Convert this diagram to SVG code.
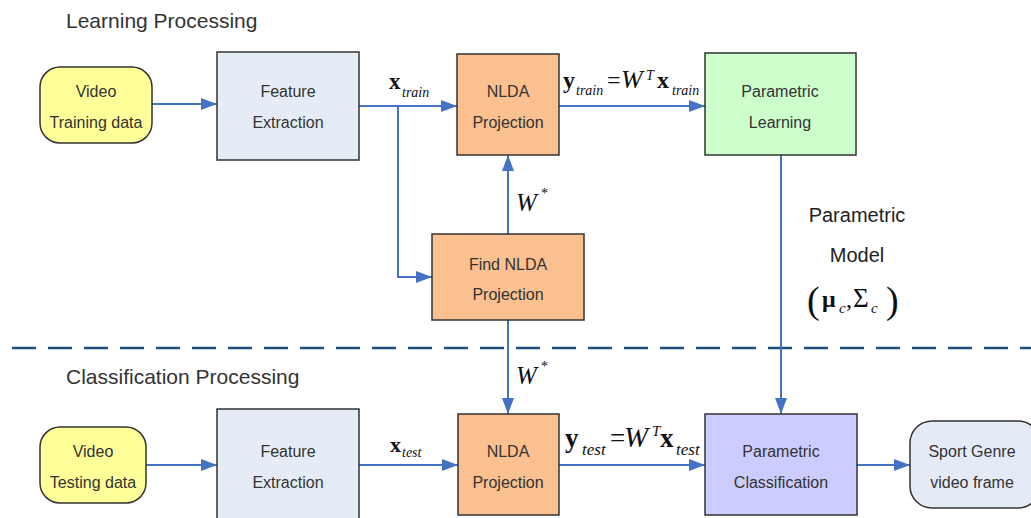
<svg xmlns="http://www.w3.org/2000/svg" width="1031" height="518" viewBox="0 0 1031 518">
  <defs>
    <marker id="arrow" viewBox="0 0 16 12" refX="16" refY="6" markerWidth="16" markerHeight="12" markerUnits="userSpaceOnUse" orient="auto">
      <path d="M0,0 L16,6 L0,12 Z" fill="#4472C4"/>
    </marker>
    <style>
      .box { stroke: #333333; stroke-width: 1.5; }
      .lbl { font-family: "Liberation Sans", Arial, sans-serif; font-size: 16px; fill: #333333; text-anchor: middle; }
      .note { font-family: "Liberation Sans", Arial, sans-serif; font-size: 20px; fill: #222222; text-anchor: middle; }
      .title { font-family: "Liberation Sans", Arial, sans-serif; font-size: 21px; fill: #333333; }
      .conn { stroke: #4472C4; stroke-width: 2; fill: none; }
      .math { font-family: "Liberation Serif", "Times New Roman", serif; fill: #111111; }
      .b { font-weight: bold; }
      .i { font-style: italic; }
      .video { fill: #FFFF99; }
      .feat { fill: #E6ECF6; }
      .nlda { fill: #FAC090; }
      .plearn { fill: #CCFFCC; }
      .pclass { fill: #CCCCFF; }
      .out { fill: #E4EAF6; }
    </style>
  </defs>
  <rect width="1031" height="518" fill="#FFFFFF"/>

  <!-- section titles and divider -->
  <text class="title" x="66" y="28">Learning Processing</text>
  <text class="title" x="66" y="384">Classification Processing</text>
  <line x1="12" y1="348" x2="1031" y2="348" stroke="#1F4E79" stroke-width="2.5" stroke-dasharray="24,12"/>

  <!-- connectors -->
  <g id="connectors">
    <line class="conn" x1="152" y1="104" x2="217" y2="104" marker-end="url(#arrow)"/>
    <line class="conn" x1="359" y1="106" x2="457" y2="106" marker-end="url(#arrow)"/>
    <polyline class="conn" points="398,106 398,277 432,277" marker-end="url(#arrow)"/>
    <line class="conn" x1="508" y1="234" x2="508" y2="155" marker-end="url(#arrow)"/>
    <line class="conn" x1="559" y1="106" x2="705" y2="106" marker-end="url(#arrow)"/>
    <line class="conn" x1="781" y1="155" x2="781" y2="414" marker-end="url(#arrow)"/>
    <line class="conn" x1="508" y1="320" x2="508" y2="414" marker-end="url(#arrow)"/>
    <line class="conn" x1="146" y1="465" x2="217" y2="465" marker-end="url(#arrow)"/>
    <line class="conn" x1="359" y1="465" x2="458" y2="465" marker-end="url(#arrow)"/>
    <line class="conn" x1="559" y1="465" x2="705" y2="465" marker-end="url(#arrow)"/>
    <line class="conn" x1="857" y1="465" x2="910" y2="465" marker-end="url(#arrow)"/>
  </g>

  <!-- learning row -->
  <g id="video-train">
    <rect class="box video" x="40" y="67" width="112" height="76" rx="20"/>
    <text class="lbl" x="96" y="97">Video</text>
    <text class="lbl" x="96" y="128">Training data</text>
  </g>
  <g id="feature-train">
    <rect class="box feat" x="217" y="52" width="142" height="108"/>
    <text class="lbl" x="288" y="97">Feature</text>
    <text class="lbl" x="288" y="128">Extraction</text>
  </g>
  <g id="nlda-train">
    <rect class="box nlda" x="457" y="54" width="102" height="101"/>
    <text class="lbl" x="508" y="97">NLDA</text>
    <text class="lbl" x="508" y="128">Projection</text>
  </g>
  <g id="param-learning">
    <rect class="box plearn" x="705" y="53" width="151" height="102"/>
    <text class="lbl" x="780" y="97">Parametric</text>
    <text class="lbl" x="780" y="128">Learning</text>
  </g>
  <g id="find-nlda">
    <rect class="box nlda" x="432" y="234" width="152" height="86"/>
    <text class="lbl" x="508" y="270">Find NLDA</text>
    <text class="lbl" x="508" y="300">Projection</text>
  </g>

  <!-- classification row -->
  <g id="video-test">
    <rect class="box video" x="40" y="427" width="106" height="76" rx="20"/>
    <text class="lbl" x="93" y="457">Video</text>
    <text class="lbl" x="93" y="488">Testing data</text>
  </g>
  <g id="feature-test">
    <rect class="box feat" x="217" y="409" width="142" height="112"/>
    <text class="lbl" x="288" y="457">Feature</text>
    <text class="lbl" x="288" y="488">Extraction</text>
  </g>
  <g id="nlda-test">
    <rect class="box nlda" x="458" y="414" width="101" height="101"/>
    <text class="lbl" x="508" y="457">NLDA</text>
    <text class="lbl" x="508" y="488">Projection</text>
  </g>
  <g id="param-class">
    <rect class="box pclass" x="705" y="414" width="152" height="101"/>
    <text class="lbl" x="781" y="457">Parametric</text>
    <text class="lbl" x="781" y="488">Classification</text>
  </g>
  <g id="sport-genre">
    <rect class="box out" x="910" y="421" width="130" height="87" rx="22"/>
    <text class="lbl" x="972" y="457">Sport Genre</text>
    <text class="lbl" x="972" y="488">video frame</text>
  </g>

  <!-- mathematical labels -->
  <g id="math-labels">
    <text class="math"><tspan class="b" font-size="23" x="389" y="89">x</tspan><tspan class="i" font-size="14" x="402" y="97">train</tspan></text>
    <text class="math"><tspan class="b" font-size="24" x="563" y="88">y</tspan><tspan class="i" font-size="14" x="576" y="95">train</tspan><tspan font-size="24" x="607" y="88">=</tspan><tspan class="i" font-size="26" x="621" y="88">W</tspan><tspan class="i" font-size="14" x="646" y="80">T</tspan><tspan class="b" font-size="24" x="657" y="88">x</tspan><tspan class="i" font-size="14" x="672" y="95">train</tspan></text>
    <text class="math"><tspan class="i" font-size="25" x="516" y="211">W</tspan><tspan font-size="14" x="541" y="198">*</tspan></text>
    <text class="math"><tspan class="i" font-size="25" x="516" y="384">W</tspan><tspan font-size="14" x="541" y="371">*</tspan></text>
    <text class="math"><tspan class="b" font-size="22" x="390" y="452">x</tspan><tspan class="i" font-size="14" x="402" y="457">test</tspan></text>
    <text class="math"><tspan class="b" font-size="27" x="565" y="447">y</tspan><tspan class="i" font-size="17" x="582" y="455">test</tspan><tspan font-size="27" x="610" y="447">=</tspan><tspan class="i" font-size="29" x="624" y="447">W</tspan><tspan class="i" font-size="15" x="652" y="436">T</tspan><tspan class="b" font-size="27" x="660" y="447">x</tspan><tspan class="i" font-size="17" x="676" y="455">test</tspan></text>
  </g>

  <!-- model annotation -->
  <g id="param-model">
    <text class="note" x="857" y="222">Parametric</text>
    <text class="note" x="857" y="262">Model</text>
    <text class="math"><tspan font-size="38" x="807" y="313">(</tspan><tspan class="b" font-size="24" x="822" y="307">μ</tspan><tspan class="i" font-size="15" x="839" y="313">c</tspan><tspan font-size="24" x="846" y="307">,</tspan><tspan font-size="27" x="853" y="307">Σ</tspan><tspan class="i" font-size="15" x="871" y="313">c</tspan><tspan font-size="38" x="886" y="313">)</tspan></text>
  </g>
</svg>
